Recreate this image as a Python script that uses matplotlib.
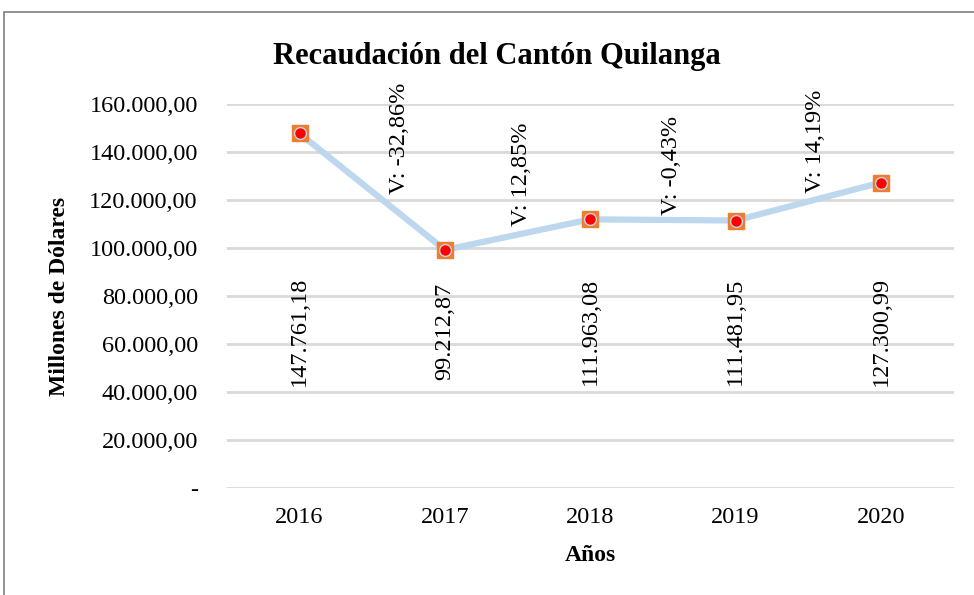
import matplotlib.pyplot as plt
from matplotlib.patches import Rectangle

years = ['2016', '2017', '2018', '2019', '2020']
recaudacion = [147761.18, 99212.87, 111963.08, 111481.95, 127300.99]
variaciones = ['V: -32,86%', 'V: 12,85%', 'V: -0,43%', 'V: 14,19%']
# where the variation labels sit (category index, value)
var_x = [0.69, 1.53, 2.56, 3.55]
var_y = [145800, 130800, 134600, 144600]
yticks = [0, 20000, 40000, 60000, 80000, 100000, 120000, 140000, 160000]


def fmt_es(v):
    s = f'{v:,.2f}'
    return s.replace(',', 'X').replace('.', ',').replace('X', '.')


plt.rcParams['font.family'] = ['Liberation Serif', 'DejaVu Serif']

fig = plt.figure(figsize=(9.74, 5.95), dpi=100)
ax = fig.add_axes([0.233, 0.18, 0.746, 0.645])

x = list(range(len(years)))
ax.plot(x, recaudacion, color='#BDD7EE', linewidth=4.5, zorder=3)
ax.plot(x, recaudacion, linestyle='none', marker='s', markersize=12,
        markerfacecolor='#ED7D31', markeredgecolor='#ED7D31', zorder=4)
ax.plot(x, recaudacion, linestyle='none', marker='o', markersize=8.5,
        markerfacecolor='#FF0000', markeredgecolor='#C9D3E0', markeredgewidth=1, zorder=5)

for i, v in enumerate(recaudacion):
    ax.text(i, 0.408, fmt_es(v), rotation=90, ha='center', va='center',
            fontsize=17.5, transform=ax.get_xaxis_transform())

for xi, yi, t in zip(var_x, var_y, variaciones):
    ax.text(xi, yi, t, rotation=90, ha='center', va='center', fontsize=17.5)

ax.set_xlim(-0.5, 4.5)
ax.set_ylim(0, 160000)
ax.set_xticks(x)
ax.set_xticklabels(years)
ax.set_yticks(yticks)
ax.set_yticklabels(['-'] + [fmt_es(t) for t in yticks[1:]])
ax.tick_params(axis='both', length=0, labelsize=17.5)
ax.tick_params(axis='y', pad=21)
ax.tick_params(axis='x', pad=14)
ax.yaxis.grid(True, color='#D9D9D9', linewidth=2)
ax.set_axisbelow(True)
for sp in ax.spines.values():
    sp.set_visible(False)

ax.set_xlabel('Años', fontsize=17, fontweight='bold', labelpad=12)
ax.set_ylabel('Millones de Dólares', fontsize=17, fontweight='bold', labelpad=14)
fig.text(0.51, 0.905, 'Recaudación del Cantón Quilanga', ha='center', va='center',
         fontsize=22, fontweight='bold')

fig.patches.append(Rectangle((0.004, -0.1), 1.2, 1.08, transform=fig.transFigure,
                             fill=False, edgecolor='#7F7F7F', linewidth=1.2))

fig.savefig('out.png', dpi=100)
